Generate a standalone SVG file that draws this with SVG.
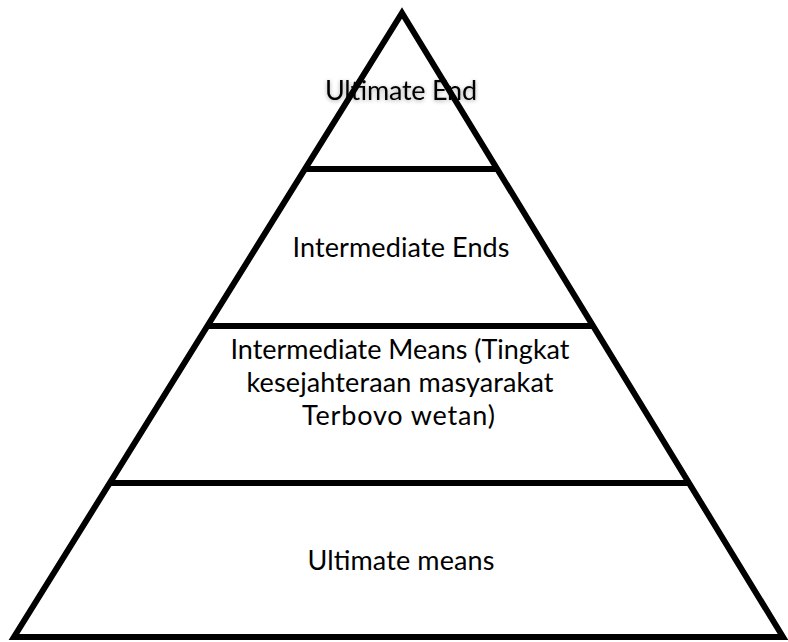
<svg xmlns="http://www.w3.org/2000/svg" width="788" height="642" viewBox="0 0 788 642">
  <style>
    .lbl { font-family: Lato, "Open Sans", "Liberation Sans", sans-serif; font-size: 27px; fill: #000; text-anchor: middle; }
    .edge { fill: none; stroke: #000; stroke-width: 6; stroke-linejoin: miter; stroke-linecap: butt; }
  </style>
  <defs>
    <filter id="glow" x="-10%" y="-30%" width="120%" height="160%">
      <feGaussianBlur in="SourceAlpha" stdDeviation="2" result="b"/>
      <feOffset in="b" dx="0" dy="1" result="o"/>
      <feComponentTransfer in="o" result="s"><feFuncA type="linear" slope="0.35"/></feComponentTransfer>
      <feMerge><feMergeNode in="s"/><feMergeNode in="SourceGraphic"/></feMerge>
    </filter>
  </defs>
  <rect width="788" height="642" fill="#fff"/>
  <g id="level-ultimate-end">
    <text class="lbl" x="401" y="100" textLength="152" filter="url(#glow)">Ultimate End</text>
  </g>
  <g id="level-intermediate-ends">
    <text class="lbl" x="401" y="257" textLength="217">Intermediate Ends</text>
  </g>
  <g id="level-intermediate-means">
    <text class="lbl" x="400" y="359" textLength="339">Intermediate Means (Tingkat</text>
    <text class="lbl" x="400" y="392" textLength="307">kesejahteraan masyarakat</text>
    <text class="lbl" x="398.5" y="425" textLength="193">Terbovo wetan)</text>
  </g>
  <g id="level-ultimate-means">
    <text class="lbl" x="401" y="570" textLength="187">Ultimate means</text>
  </g>
  <g id="connectors">
    <polygon class="edge" points="402,13 783,637 14,637"/>
    <line class="edge" x1="305" y1="169" x2="497" y2="169"/>
    <line class="edge" x1="207" y1="326" x2="593" y2="326"/>
    <line class="edge" x1="110" y1="483" x2="690" y2="483"/>
  </g>
</svg>
